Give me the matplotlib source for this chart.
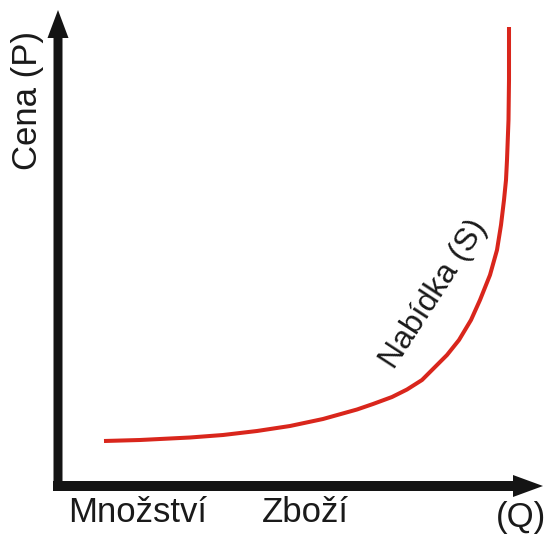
import matplotlib
matplotlib.use("Agg")
import matplotlib.pyplot as plt

# Supply curve (quantity Q, price P)
supply_q = [46, 82, 132, 165, 199, 232, 265, 299, 315, 334, 349, 364, 374, 389, 401,
            413, 422, 432, 439, 443, 446, 448, 449, 450.5, 451, 451]
supply_p = [45, 46, 48.5, 51, 55, 60, 67, 76.5, 82, 89, 96.5, 106, 116, 131, 146,
            166, 186, 211, 236, 261, 286, 306, 326, 366, 406, 459]

x_label_left = "Množství"
x_label_mid = "Zboží"
x_label_right = "(Q)"
y_label = "Cena (P)"
curve_label = "Nabídka (S)"

plt.rcParams['font.family'] = ['Liberation Sans', 'DejaVu Sans']

fig = plt.figure(figsize=(5.48, 5.34), dpi=100)
ax = fig.add_axes([0, 0, 1, 1])
ax.set_xlim(-58, 490)
ax.set_ylim(-48, 486)
ax.axis('off')

axis_col = '#141414'
# axes arrows
ax.arrow(0, -5, 0, 481, width=9, head_width=21, head_length=28,
         length_includes_head=True, color=axis_col, lw=0)
ax.arrow(-5, 0, 490, 0, width=10, head_width=22, head_length=30,
         length_includes_head=True, color=axis_col, lw=0)

ax.plot(supply_q, supply_p, color='#d9261c', lw=2.9, solid_capstyle='butt',
        solid_joinstyle='round')

fs = 25
tc = '#1a1a1a'
ax.text(-31, 386, y_label, rotation=90, ha='center', va='center', fontsize=fs, color=tc)
ax.text(80, -27, x_label_left, ha='center', va='center', fontsize=fs, color=tc)
ax.text(247, -27, x_label_mid, ha='center', va='center', fontsize=fs, color=tc)
ax.text(463, -31, x_label_right, ha='center', va='center', fontsize=fs, color=tc)
ax.text(376, 192, curve_label, rotation=57, ha='center', va='center', fontsize=23,
        color=tc, rotation_mode='anchor')

fig.savefig('out.png', dpi=100)
